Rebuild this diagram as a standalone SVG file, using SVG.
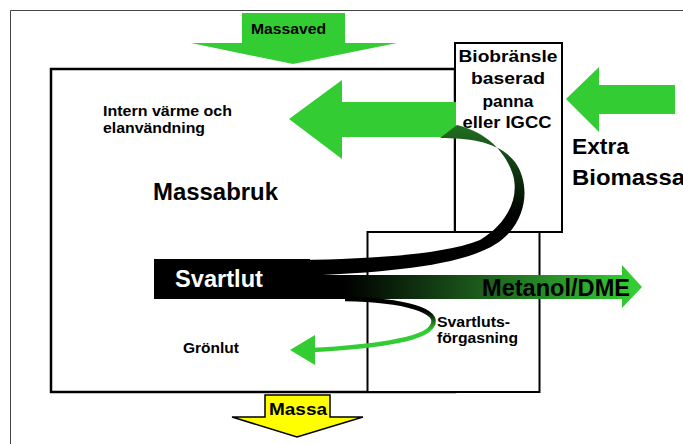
<svg xmlns="http://www.w3.org/2000/svg" width="683" height="444" viewBox="0 0 683 444">
<style>
text{font-family:"Liberation Sans",Arial,sans-serif;font-weight:bold;fill:#000}
.box{fill:#fff;stroke:#000}
.green{fill:#33cc33}
</style>
<defs>
<linearGradient id="gMet" gradientUnits="userSpaceOnUse" x1="345" y1="0" x2="630" y2="0">
<stop offset="0" stop-color="#000"/>
<stop offset="0.45" stop-color="#1b561b"/>
<stop offset="1" stop-color="#33cc33"/>
</linearGradient>
<linearGradient id="gRib" gradientUnits="userSpaceOnUse" x1="0" y1="130" x2="0" y2="215">
<stop offset="0" stop-color="#1f6a1f"/>
<stop offset="1" stop-color="#000"/>
</linearGradient>
<linearGradient id="gLow" gradientUnits="userSpaceOnUse" x1="0" y1="312" x2="0" y2="330">
<stop offset="0" stop-color="#000"/>
<stop offset="1" stop-color="#33cc33"/>
</linearGradient>
</defs>
<path d="M10.5,444 V10.5 H683" fill="none" stroke="#444" stroke-width="1"/>
<g id="massabruk"><rect class="box" x="51" y="69" width="404" height="323" stroke-width="2.5"/></g>
<g id="biobransle"><rect class="box" x="455" y="43" width="107" height="189" stroke-width="2"/></g>
<g id="svartluts"><rect class="box" x="367.5" y="232" width="172" height="160" stroke-width="2"/></g>
<g id="connectors">
<polygon id="massaved-arrow" class="green" points="242,13 345,13 345,43 397,43 293,64 191,43 242,43"/>
<polygon id="massa-arrow" points="265,395 330,395 330,417 363,417 297,437 232,417 265,417" fill="#ffff00" stroke="#000" stroke-width="1.5"/>
<polygon id="extra-arrow" class="green" points="675,85 599,85 599,67 566,99 599,132 599,114 675,114"/>
<polygon id="intern-arrow" class="green" points="456,102 342,102 342,80 289,119 342,159 342,137 456,137"/>
<path id="ribbon" d="M300,276 C400,272 478,264 506,236 C530,212 528,180 515,162 C500,142 470,138 440,138 L457,125 C485,132 505,150 513,175 C520,200 505,225 480,240 C440,256 360,259 300,260 Z" fill="url(#gRib)"/>
<rect x="154" y="259" width="156" height="40" fill="#000"/>
<polygon id="metanol-arrow" points="300,275 622,275 622,265 642,287 622,308 622,299 300,299" fill="url(#gMet)"/>
<path id="gronlut-curve" d="M345,299 C405,300 442,311 432,326 C425,340 370,347 312,350" fill="none" stroke="url(#gLow)" stroke-width="4.5"/>
<polygon points="290,350 315,335 315,365" class="green"/>
</g>
<g id="labels">
<text x="251" y="34" font-size="15" textLength="75" lengthAdjust="spacingAndGlyphs">Massaved</text>
<text x="103" y="116" font-size="15" textLength="129" lengthAdjust="spacingAndGlyphs">Intern värme och</text>
<text x="103" y="133" font-size="15" textLength="102" lengthAdjust="spacingAndGlyphs">elanvändning</text>
<text x="153" y="200" font-size="23" textLength="125" lengthAdjust="spacingAndGlyphs">Massabruk</text>
<text x="508" y="62" font-size="17" text-anchor="middle" textLength="99" lengthAdjust="spacingAndGlyphs">Biobränsle</text>
<text x="508" y="84" font-size="17" text-anchor="middle" textLength="74" lengthAdjust="spacingAndGlyphs">baserad</text>
<text x="508" y="107" font-size="17" text-anchor="middle" textLength="51" lengthAdjust="spacingAndGlyphs">panna</text>
<text x="507" y="128" font-size="17" text-anchor="middle" textLength="89" lengthAdjust="spacingAndGlyphs">eller IGCC</text>
<text x="572" y="154" font-size="22" textLength="57" lengthAdjust="spacingAndGlyphs">Extra</text>
<text x="572" y="185" font-size="22" textLength="113" lengthAdjust="spacingAndGlyphs">Biomassa</text>
<text x="175" y="287" font-size="23" textLength="88" lengthAdjust="spacingAndGlyphs" style="fill:#fff">Svartlut</text>
<text x="482" y="296" font-size="24" textLength="148" lengthAdjust="spacingAndGlyphs">Metanol/DME</text>
<text x="437" y="327" font-size="14" textLength="73" lengthAdjust="spacingAndGlyphs">Svartluts-</text>
<text x="437" y="343" font-size="14" textLength="81" lengthAdjust="spacingAndGlyphs">förgasning</text>
<text x="183" y="353" font-size="15" textLength="56" lengthAdjust="spacingAndGlyphs">Grönlut</text>
<text x="269" y="415" font-size="17" textLength="58" lengthAdjust="spacingAndGlyphs">Massa</text>
</g>
</svg>
